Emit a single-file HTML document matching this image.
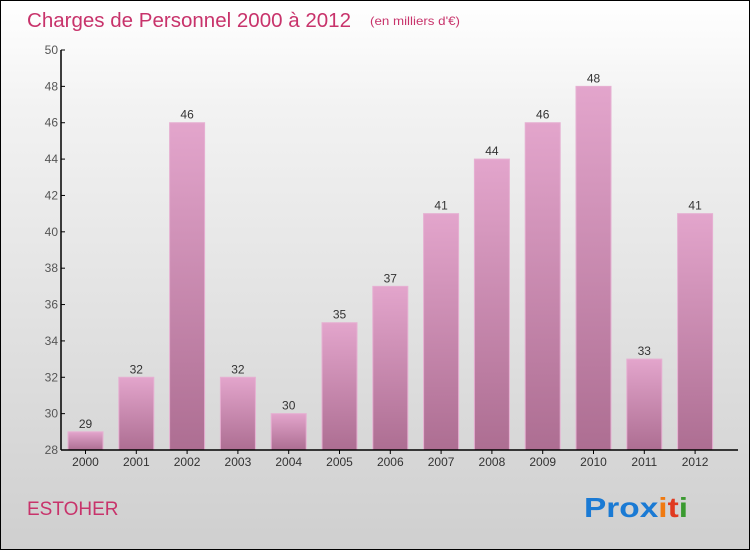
<!DOCTYPE html>
<html><head><meta charset="utf-8"><style>
html,body{margin:0;padding:0}
body{width:750px;height:550px;overflow:hidden;font-family:"Liberation Sans",sans-serif}
#wrap{position:absolute;left:0;top:0;width:748px;height:548px;border:1px solid #000;background:linear-gradient(#ffffff,#f2f2f2 20%,#cfcfcf)}
</style></head><body>
<div id="wrap">
<svg width="750" height="550" style="position:absolute;left:-1px;top:-1px">
<defs>
<linearGradient id="bg" x1="0" y1="0" x2="0" y2="1"><stop offset="0" stop-color="#e3a5cc"/><stop offset="1" stop-color="#ad6e92"/></linearGradient>
</defs>
<text x="27" y="27" font-size="20" textLength="324" lengthAdjust="spacingAndGlyphs" fill="#c8336b">Charges de Personnel 2000 à 2012</text>
<text x="370" y="25" font-size="12" textLength="90" lengthAdjust="spacingAndGlyphs" fill="#c8336b">(en milliers d'€)</text>
<g id="plot"></g>
<text x="27" y="515" font-size="19" fill="#c8336b">ESTOHER</text>
<text x="584" y="517" font-size="28" font-weight="bold" textLength="104" lengthAdjust="spacingAndGlyphs" fill="#1a7ad4">Pro<tspan fill="#1a7ad4">x</tspan><tspan fill="#f07a10">i</tspan><tspan fill="#e03a20">t</tspan><tspan fill="#3a9a30">i</tspan></text>
</svg>
</div>
<script>
const years=["2000","2001","2002","2003","2004","2005","2006","2007","2008","2009","2010","2011","2012"];
const values=[29,32,46,32,30,35,37,41,44,46,48,33,41];
const yTicks=[28,30,32,34,36,38,40,42,44,46,48,50];
const NS="http://www.w3.org/2000/svg";
const plotG=document.getElementById('plot');
const yMin=28,yMax=50,plotTop=50,plotBot=450,axX=61;
function yScale(v){return plotBot-(v-yMin)/(yMax-yMin)*(plotBot-plotTop);}
function xScale(i){return 85.5+i*50.8;}
function mk(t,a,txt){const e=document.createElementNS(NS,t);for(const k in a)e.setAttribute(k,a[k]);if(txt!==undefined)e.textContent=txt;plotG.appendChild(e);return e;}
values.forEach((v,i)=>{
 const r=mk('rect',{x:xScale(i)-17.5,y:yScale(v),width:35,height:plotBot-yScale(v),fill:'url(#bg)',stroke:'#e6b0d2','stroke-width':1});
 
 
 const t=mk('text',{x:xScale(i),y:yScale(v)-4,'font-size':12,fill:'#333','text-anchor':'middle'},String(v));
 
 
 const xl=mk('text',{x:xScale(i),y:plotBot+16,'font-size':12,fill:'#333','text-anchor':'middle'},years[i]);
 
 
 const tk=mk('line',{x1:xScale(i),x2:xScale(i),y1:plotBot,y2:plotBot+4,stroke:'#000'});
 
 
});
yTicks.forEach(v=>{
 const l=mk('line',{x1:axX,x2:axX+4,y1:yScale(v),y2:yScale(v),stroke:'#000'});
 
 
 const t=mk('text',{x:axX-3,y:yScale(v)+4,'font-size':12,fill:'#555','text-anchor':'end'},String(v));
 
 
});
const ya=mk('line',{x1:axX,x2:axX,y1:plotTop,y2:plotBot,stroke:'#000','stroke-width':1.5});


const xa=mk('line',{x1:axX,x2:738,y1:plotBot,y2:plotBot,stroke:'#000','stroke-width':1.5});


</script>
</body></html>
